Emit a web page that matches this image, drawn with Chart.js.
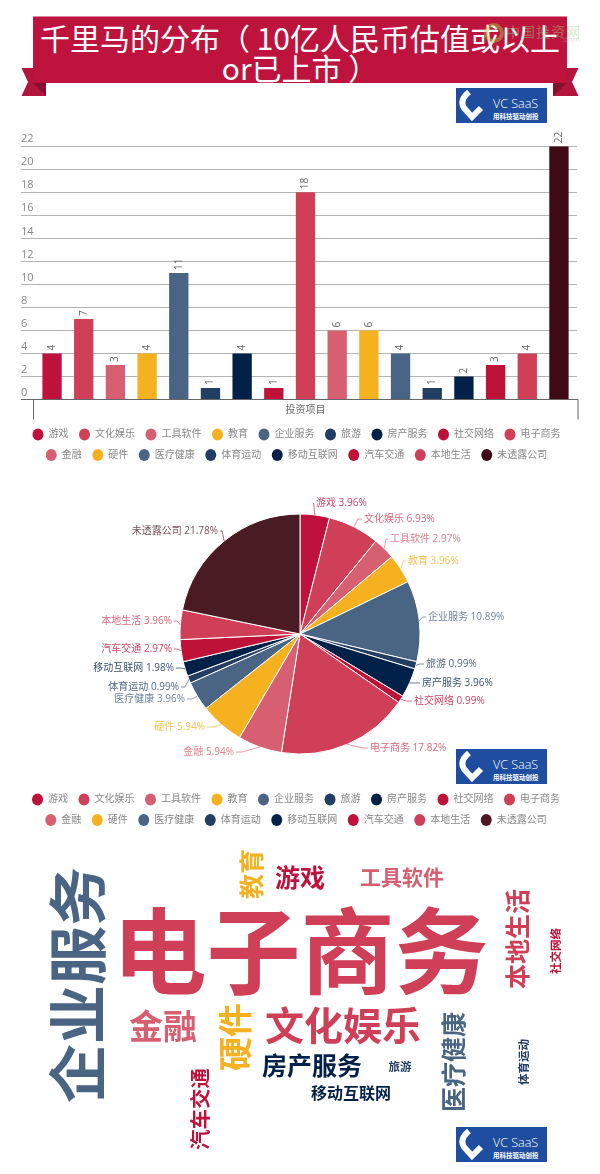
<!DOCTYPE html>
<html lang="zh">
<head>
<meta charset="utf-8">
<title>千里马的分布</title>
<script src="https://cdn.jsdelivr.net/npm/chart.js@4/dist/chart.umd.min.js"></script>
<style>
	html, body { margin: 0; padding: 0; background: #fff; }
	#page { position: relative; width: 600px; height: 1174px; overflow: hidden; font-family: "Noto Sans CJK SC", sans-serif; }
	canvas { position: absolute; left: 0; }
	#ribbon { position: absolute; left: 0; top: 0; }
	#title { position: absolute; left: 33px; top: 22px; width: 534px; text-align: center; color: #fff; font-size: 30px; line-height: 30px; white-space: nowrap; }
	.logo { position: absolute; left: 456px; width: 91px; height: 35px; background: #1f4ea1; color: #fff; z-index: 3; }
	.logo svg { position: absolute; left: 0; top: 0; }
	.logo b { position: absolute; left: 37px; top: 7px; font: 300 12.5px "Open Sans", sans-serif; white-space: nowrap; }
	.logo i { position: absolute; left: 37px; top: 24px; font: bold 6.5px/8px "Noto Sans CJK SC", sans-serif; white-space: nowrap; }
	#mark { position: absolute; left: 484px; top: 22px; width: 96px; height: 24px; z-index: 2; opacity: .45; }
	#mark span { position: absolute; left: 22px; top: -1px; font-size: 14px; color: #9fd08a; letter-spacing: 1px; white-space: nowrap; }
	#mark em { position: absolute; right: 0; top: 11px; font: normal 8px "Open Sans", sans-serif; color: #bbb; }
	#mark div { position: absolute; left: 0; top: 1px; width: 12px; height: 12px; border: 4px solid #a8cf45; border-radius: 50%; }
</style>
</head>
<body>
<div id="page">
	<svg id="ribbon" width="600" height="100">
		<polygon points="21.5,68 33,68 33,83 46,83 46,96 21.5,96 28,82" fill="#b4153c"/>
		<polygon points="33,83 46,83 46,96" fill="#86102c"/>
		<polygon points="578.5,68 567,68 567,83 553,83 553,96 578.5,96 572,82" fill="#b4153c"/>
		<polygon points="567,83 553,83 553,96" fill="#86102c"/>
		<rect x="33" y="16.5" width="534" height="66.5" fill="#bd133d"/>
	</svg>
	<div id="title">千里马的分布（ 10亿人民币估值或以上<br>or已上市 ）</div>
	<div id="mark"><div></div><span>中国投资网</span><em>.com</em></div>
	<canvas id="barChart" width="600" height="340" style="top:130px"></canvas>
	<canvas id="pieChart" width="600" height="351" style="top:484px"></canvas>
	<canvas id="cloudChart" width="600" height="330" style="top:840px"></canvas>
</div>
<script>
const categories = ['游戏', '文化娱乐', '工具软件', '教育', '企业服务', '旅游', '房产服务', '社交网络', '电子商务', '金融', '硬件', '医疗健康', '体育运动', '移动互联网', '汽车交通', '本地生活', '未透露公司'];
const projectCounts = [4, 7, 3, 4, 11, 1, 4, 1, 18, 6, 6, 4, 1, 2, 3, 4, 22];
const yTicks = [0, 2, 4, 6, 8, 10, 12, 14, 16, 18, 20, 22];

const palette = ['#be123c', '#cf3f57', '#d65f72', '#f5b120', '#4a6484', '#223f63', '#012148', '#be1238', '#cf3f57', '#d65f72', '#f5b120', '#4a6484', '#223f63', '#012148', '#be1238', '#cf3f57'];
const barColors = [...palette, '#3f0a18'];
const pieColors = [...palette, '#4a1b22'];

// where each pie label sits on the page (near edge of the text, middle of the line)
const pieLabelX = [316, 364, 390, 408, 428, 426, 422, 414, 370, 234, 205, 185, 179, 174, 172, 172, 218];
const pieLabelY = [503, 519, 539, 561, 617, 664, 683, 701, 748, 752, 727, 699, 687, 668, 649, 621, 531];

// word cloud layout on the page: centre x, centre y, font size, turned or not
const cloudX = [300, 343, 402, 251, 77.5, 400, 312, 556, 300.5, 163, 235, 453.5, 524, 351, 200, 517];
const cloudY = [877, 1025, 877, 874, 985, 1067, 1065, 951, 951, 1026, 1037, 1062, 1062, 1093, 1109, 939];
const cloudSize = [25, 39, 21, 25, 59, 11.5, 25, 11.5, 94, 34, 34, 25, 11.5, 16, 20.5, 25];
const cloudTurned = [false, false, false, true, true, false, false, true, false, false, true, true, true, false, true, true];

const FONT = '"Open Sans", "Noto Sans CJK SC", sans-serif';
const CJK_BOLD = '"Noto Sans CJK SC", sans-serif';

const legendLabels = (colors) => ({
	usePointStyle: true,
	pointStyleWidth: 11,
	boxHeight: 8.5,
	padding: 10.5,
	color: '#888',
	font: { family: FONT, size: 10 },
	generateLabels: () => categories.map((text, index) => ({
		text,
		fillStyle: colors[index],
		strokeStyle: colors[index],
		fontColor: '#888',
		lineWidth: 0,
		pointStyle: 'circle',
		index,
	})),
});

// gridlines run wider than the categories and the labels float above them
const barDecor = {
	id: 'barDecor',
	beforeDatasetsDraw(chart) {
		const { ctx, scales: { y } } = chart;
		ctx.save();
		ctx.strokeStyle = '#b4b4b4';
		ctx.lineWidth = 1;
		yTicks.slice(1).forEach((tick) => {
			const py = Math.round(y.getPixelForValue(tick)) + 0.5;
			ctx.beginPath();
			ctx.moveTo(21, py);
			ctx.lineTo(577, py);
			ctx.stroke();
		});
		ctx.fillStyle = '#888';
		ctx.font = `11px ${FONT}`;
		ctx.textBaseline = 'middle';
		yTicks.forEach((tick) => {
			ctx.fillText(String(tick), 21, y.getPixelForValue(tick) - 7);
		});
		ctx.restore();
	},
	afterDatasetsDraw(chart) {
		const { ctx, scales: { y } } = chart;
		const base = y.getPixelForValue(0);
		ctx.save();
		ctx.strokeStyle = '#666';
		ctx.lineWidth = 1.2;
		ctx.beginPath();
		ctx.moveTo(21, base);
		ctx.lineTo(578, base);
		ctx.stroke();
		ctx.lineWidth = 1;
		ctx.beginPath();
		ctx.moveTo(33.5, base);
		ctx.lineTo(33.5, base + 20);
		ctx.moveTo(578, base);
		ctx.lineTo(578, base + 20);
		ctx.stroke();
		ctx.fillStyle = '#666';
		ctx.font = `10px ${FONT}`;
		ctx.textBaseline = 'middle';
		ctx.textAlign = 'left';
		chart.getDatasetMeta(0).data.forEach((bar, index) => {
			ctx.save();
			ctx.translate(bar.x, bar.y - 3);
			ctx.rotate(-Math.PI / 2);
			ctx.fillText(String(projectCounts[index]), 0, 0);
			ctx.restore();
		});
		ctx.restore();
	},
};

const total = projectCounts.reduce((sum, value) => sum + value, 0);

const pieLabels = {
	id: 'pieLabels',
	afterLayout(chart) {
		chart.legend.left -= 4;
		chart.legend.right -= 4;
	},
	afterDatasetsDraw(chart) {
		const { ctx } = chart;
		const top = chart.canvas.offsetTop;
		ctx.save();
		ctx.font = `10px ${FONT}`;
		ctx.textBaseline = 'middle';
		ctx.lineWidth = 0.8;
		chart.getDatasetMeta(0).data.forEach((arc, index) => {
			const mid = (arc.startAngle + arc.endAngle) / 2;
			const startX = arc.x + Math.cos(mid) * arc.outerRadius;
			const startY = arc.y + Math.sin(mid) * arc.outerRadius;
			const right = Math.cos(mid) >= 0;
			const side = right ? 1 : -1;
			const endX = pieLabelX[index] - side * 2;
			const labelY = pieLabelY[index] - top;
			const elbow = Math.min(6, Math.abs(endX - startX) / 2);
			ctx.strokeStyle = pieColors[index];
			ctx.fillStyle = pieColors[index];
			ctx.globalAlpha = 0.75;
			ctx.beginPath();
			ctx.moveTo(startX, startY);
			ctx.lineTo(endX - side * elbow, labelY);
			ctx.lineTo(endX, labelY);
			ctx.stroke();
			ctx.globalAlpha = 0.8;
			ctx.textAlign = right ? 'left' : 'right';
			const percent = ((projectCounts[index] / total) * 100).toFixed(2);
			ctx.fillText(`${categories[index]} ${percent}%`, pieLabelX[index], labelY);
		});
		ctx.restore();
	},
};

const cloudWords = {
	id: 'cloudWords',
	afterDatasetsDraw(chart) {
		const { ctx } = chart;
		ctx.save();
		ctx.textAlign = 'center';
		ctx.textBaseline = 'middle';
		chart.getDatasetMeta(0).data.forEach((point, index) => {
			ctx.save();
			ctx.translate(point.x, point.y);
			if (cloudTurned[index]) {
				ctx.rotate(-Math.PI / 2);
			}
			ctx.font = `bold ${cloudSize[index]}px ${CJK_BOLD}`;
			ctx.fillStyle = palette[index];
			ctx.fillText(categories[index], 0, 0);
			ctx.restore();
		});
		ctx.restore();
	},
};

new Chart(document.getElementById('barChart'), {
	type: 'bar',
	data: {
		labels: categories,
		datasets: [{
			data: projectCounts,
			backgroundColor: barColors,
			categoryPercentage: 1,
			barPercentage: 0.61,
		}],
	},
	options: {
		responsive: false,
		animation: false,
		devicePixelRatio: 1,
		layout: { padding: { top: 16.3, left: 18.2, right: 25.2, bottom: 0 } },
		plugins: {
			legend: { position: 'bottom', labels: legendLabels(barColors) },
			tooltip: { enabled: false },
		},
		scales: {
			x: {
				grid: { display: false },
				border: { display: false },
				ticks: { display: false },
				title: { display: true, text: '投资项目', color: '#666', font: { family: FONT, size: 10 }, padding: { top: 3, bottom: 3 } },
				afterFit: (scale) => { scale.height = 19.5; },
			},
			y: {
				min: 0,
				max: 22,
				grid: { display: false },
				border: { display: false },
				ticks: { display: false, stepSize: 2 },
				afterFit: (scale) => { scale.width = 18; },
			},
		},
	},
	plugins: [barDecor],
});

new Chart(document.getElementById('pieChart'), {
	type: 'pie',
	data: {
		labels: categories,
		datasets: [{
			data: projectCounts,
			backgroundColor: pieColors,
			borderColor: '#fff',
			borderWidth: 1,
			radius: 120,
		}],
	},
	options: {
		responsive: false,
		animation: false,
		devicePixelRatio: 1,
		layout: { padding: { left: 22, right: 22 } },
		plugins: {
			legend: { position: 'bottom', labels: legendLabels(pieColors) },
			tooltip: { enabled: false },
		},
	},
	plugins: [pieLabels],
});

new Chart(document.getElementById('cloudChart'), {
	type: 'scatter',
	data: {
		datasets: [{
			data: categories.slice(0, 16).map((name, index) => ({ x: cloudX[index], y: cloudY[index] })),
			pointRadius: 0,
		}],
	},
	options: {
		responsive: false,
		animation: false,
		devicePixelRatio: 1,
		plugins: { legend: { display: false }, tooltip: { enabled: false } },
		scales: {
			x: { display: false, min: 0, max: 600 },
			y: { display: false, min: 840, max: 1170, reverse: true },
		},
	},
	plugins: [cloudWords],
});

// the same badge sits under each of the three panels
[88, 749, 1127].forEach((top) => {
	const logo = document.createElement('div');
	logo.className = 'logo';
	logo.style.top = `${top}px`;
	logo.innerHTML = '<svg width="36" height="35"><path d="M13 4 Q3 12 8 20 L16 29 L25 20" fill="none" stroke="#fff" stroke-width="6"/></svg><b>VC SaaS</b><i>用科技驱动创投</i>';
	document.getElementById('page').appendChild(logo);
});
</script>
</body>
</html>
